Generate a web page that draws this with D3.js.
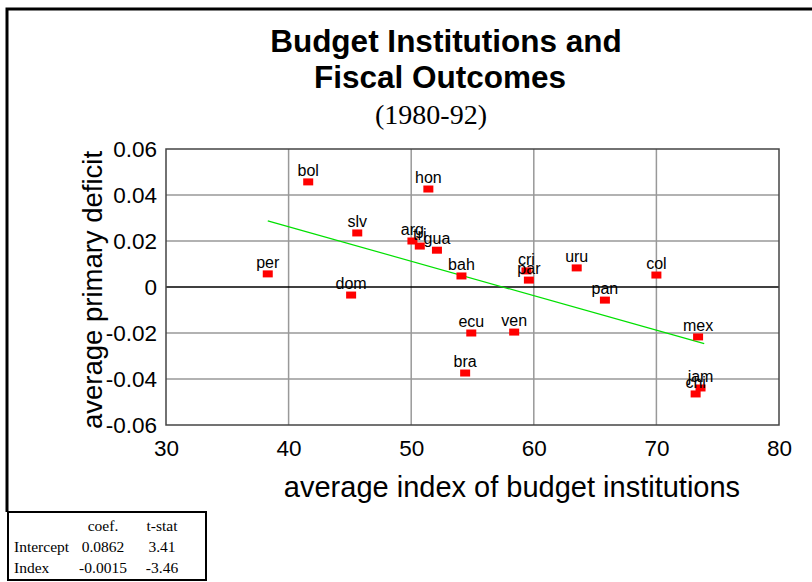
<!DOCTYPE html>
<html><head><meta charset="utf-8">
<script src="https://cdn.jsdelivr.net/npm/d3@7"></script>
<style>body{margin:0;background:#fff}svg{display:block}</style>
</head><body><svg id="c" width="812" height="582"></svg>
<script>
const countries = ["per","bol","slv","dom","arg","tri","gua","hon","bah","ecu","bra","ven","cri","par","uru","pan","col","mex","jam","chi"];
const indexValues = [38.3,41.6,45.6,45.1,50.1,50.7,52.1,51.4,54.1,54.9,54.4,58.4,59.4,59.6,63.5,65.8,70.0,73.4,73.6,73.2];
const deficitValues = [0.0057,0.0457,0.0235,-0.0035,0.0200,0.0178,0.0160,0.0426,0.0048,-0.0200,-0.0374,-0.0196,0.0070,0.0030,0.0083,-0.0057,0.0052,-0.0217,-0.0439,-0.0465];
const xTicks = [30,40,50,60,70,80];
const yTicks = [-0.06,-0.04,-0.02,0,0.02,0.04,0.06];
const regIntercept = 0.0862, regSlope = -0.0015;
const tableHeader = ["", "coef.", "t-stat"];
const tableRows = [["Intercept","0.0862","3.41"],["Index","-0.0015","-3.46"]];

const sans = "Liberation Sans, Arial, sans-serif";
const serif = "Liberation Serif, Times New Roman, serif";
const svg = d3.select("#c");
const x = d3.scaleLinear().domain([30,80]).range([166,779]);
const y = d3.scaleLinear().domain([-0.06,0.06]).range([425,149]);

// outer frame (top & left)
svg.append("path").attr("d","M7,512 L7,9 L812,9").attr("fill","none").attr("stroke","#000").attr("stroke-width",3);

// title
svg.append("text").attr("x",446).attr("y",52).attr("text-anchor","middle")
  .attr("font-family",sans).attr("font-weight","bold").attr("font-size",31.5).text("Budget Institutions and");
svg.append("text").attr("x",440).attr("y",88).attr("text-anchor","middle")
  .attr("font-family",sans).attr("font-weight","bold").attr("font-size",31.5).text("Fiscal Outcomes");
svg.append("text").attr("x",431).attr("y",124).attr("text-anchor","middle")
  .attr("font-family",serif).attr("font-size",28).text("(1980-92)");

// grid
const g = svg.append("g");
g.selectAll(".vx").data(xTicks.slice(1,-1)).join("line")
  .attr("x1",d=>x(d)).attr("x2",d=>x(d)).attr("y1",y(0.06)).attr("y2",y(-0.06))
  .attr("stroke","#999").attr("stroke-width",1.5);
g.selectAll(".hy").data(yTicks.filter(d=>d!==0 && Math.abs(d)<0.06)).join("line")
  .attr("x1",x(30)).attr("x2",x(80)).attr("y1",d=>y(d)).attr("y2",d=>y(d))
  .attr("stroke","#999").attr("stroke-width",1.5);
g.append("line").attr("x1",x(30)).attr("x2",x(80)).attr("y1",y(0)).attr("y2",y(0)).attr("stroke","#000").attr("stroke-width",1.5);
g.append("rect").attr("x",x(30)).attr("y",y(0.06)).attr("width",x(80)-x(30)).attr("height",y(-0.06)-y(0.06))
  .attr("fill","none").attr("stroke","#444").attr("stroke-width",1.5);

// axes (labels only)
const xAxis = d3.axisBottom(x).tickValues(xTicks).tickSize(0).tickPadding(15).tickFormat(d3.format("d"));
const xa = svg.append("g").attr("transform",`translate(0,${y(-0.06)})`).call(xAxis);
xa.select(".domain").remove();
xa.selectAll("text").attr("font-family",sans).attr("font-size",22.5).attr("fill","#000");
const yAxis = d3.axisLeft(y).tickValues(yTicks).tickSize(0).tickPadding(9)
  .tickFormat(d=> d===0 ? "0" : d3.format(".2f")(d).replace("−","-"));
const ya = svg.append("g").attr("transform",`translate(${x(30)},0)`).call(yAxis);
ya.select(".domain").remove();
ya.selectAll("text").attr("font-family",sans).attr("font-size",22.5).attr("fill","#000");

// axis titles
svg.append("text").attr("x",512).attr("y",497).attr("text-anchor","middle")
  .attr("font-family",sans).attr("font-size",29).text("average index of budget institutions");
svg.append("text").attr("transform","translate(102,290) rotate(-90)").attr("text-anchor","middle")
  .attr("font-family",sans).attr("font-size",27.5).text("average primary deficit");

// regression line
const xmin = d3.min(indexValues), xmax = d3.max(indexValues) + 0.3;
svg.append("line").attr("x1",x(xmin)).attr("x2",x(xmax))
  .attr("y1",y(regIntercept+regSlope*xmin)).attr("y2",y(regIntercept+regSlope*xmax))
  .attr("stroke","#00e000").attr("stroke-width",1.2);

// points
const pts = countries.map((c,i)=>({c, v:indexValues[i], d:deficitValues[i]}));
svg.selectAll(".pt").data(pts).join("rect")
  .attr("x",p=>x(p.v)-5).attr("y",p=>y(p.d)-3.5).attr("width",10).attr("height",7).attr("fill","#ff0000");
svg.selectAll(".lb").data(pts).join("text")
  .attr("x",p=>x(p.v)).attr("y",p=>y(p.d)-6).attr("text-anchor","middle")
  .attr("font-family",sans).attr("font-size",16).text(p=>p.c);

// stats table
svg.append("rect").attr("x",8).attr("y",512).attr("width",198).attr("height",68).attr("fill","#fff").attr("stroke","#000").attr("stroke-width",2);
const colX = [14,103,162];
svg.selectAll(".th").data(tableHeader).join("text")
  .attr("x",(d,i)=>colX[i]).attr("y",531).attr("text-anchor",(d,i)=>i===0?"start":"middle")
  .attr("font-family",serif).attr("font-size",15.5).text(d=>d);
tableRows.forEach((row,r)=>{
  svg.selectAll(".tr"+r).data(row).join("text")
    .attr("x",(d,i)=>colX[i]).attr("y",552+r*21).attr("text-anchor",(d,i)=>i===0?"start":"middle")
    .attr("font-family",serif).attr("font-size",15.5).text(d=>d);
});
</script></body></html>
